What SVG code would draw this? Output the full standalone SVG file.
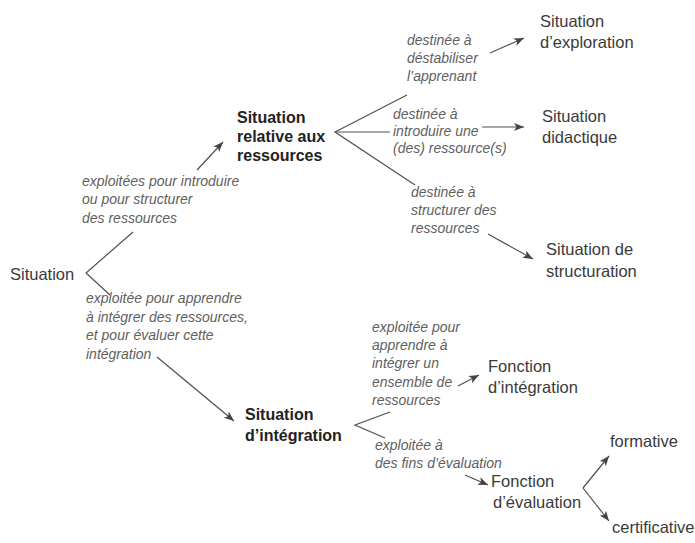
<svg xmlns="http://www.w3.org/2000/svg" width="695" height="543" viewBox="0 0 695 543">
<defs>
<marker id="ah" markerUnits="userSpaceOnUse" markerWidth="12" markerHeight="10" refX="10" refY="4" orient="auto">
<path d="M0,0 L10,4 L0,8 L2.5,4 Z" fill="#444"/>
</marker>
<style>
text{font-family:"Liberation Sans",Arial,sans-serif;}
.n{font-size:16.5px;fill:#3a3a3a;}
.b{font-size:16px;font-weight:bold;fill:#222;}
.i{font-size:14px;font-style:italic;fill:#606060;}
.l{stroke:#505050;stroke-width:1.2;fill:none;}
.a{stroke:#505050;stroke-width:1.2;fill:none;marker-end:url(#ah);}
</style>
</defs>
<rect width="695" height="543" fill="#fff"/>
<g id="connectors">
<polyline class="l" points="133,232 86,273 110,295"/>
<line class="a" x1="197" y1="170" x2="223" y2="142"/>
<line class="a" x1="157" y1="357" x2="234" y2="421"/>
<polyline class="l" points="407,95 335,132 415,185"/>
<line class="l" x1="335" y1="132" x2="390" y2="132"/>
<line class="a" x1="490" y1="53" x2="524" y2="38"/>
<line class="a" x1="482" y1="127" x2="524" y2="127"/>
<line class="a" x1="488" y1="234" x2="533" y2="259"/>
<polyline class="l" points="390,412 355,425 385,438"/>
<line class="a" x1="458" y1="386" x2="479" y2="375"/>
<line class="a" x1="465" y1="475" x2="488" y2="485"/>
<line class="a" x1="583" y1="488" x2="609" y2="456"/>
<line class="a" x1="583" y1="488" x2="609" y2="521"/>
</g>
<g id="situation"><text class="n" x="10" y="280">Situation</text></g>
<g id="label-introduire"><text class="i" x="82" y="186">exploitées pour introduire</text><text class="i" x="82" y="204">ou pour structurer</text><text class="i" x="82" y="223">des ressources</text></g>
<g id="label-apprendre"><text class="i" x="86" y="303">exploitée pour apprendre</text><text class="i" x="86" y="322">à intégrer des ressources,</text><text class="i" x="86" y="340">et pour évaluer cette</text><text class="i" x="86" y="359">intégration</text></g>
<g id="situation-ressources"><text class="b" x="237" y="123">Situation</text><text class="b" x="237" y="142">relative aux</text><text class="b" x="237" y="161">ressources</text></g>
<g id="label-destabiliser"><text class="i" x="407" y="45">destinée à</text><text class="i" x="407" y="63">déstabiliser</text><text class="i" x="407" y="81">l’apprenant</text></g>
<g id="label-introduire-res"><text class="i" x="393" y="119">destinée à</text><text class="i" x="393" y="136">introduire une</text><text class="i" x="393" y="153">(des) ressource(s)</text></g>
<g id="label-structurer"><text class="i" x="411" y="197">destinée à</text><text class="i" x="411" y="215">structurer des</text><text class="i" x="411" y="233">ressources</text></g>
<g id="situation-exploration"><text class="n" x="540" y="27">Situation</text><text class="n" x="540" y="48">d’exploration</text></g>
<g id="situation-didactique"><text class="n" x="542" y="122">Situation</text><text class="n" x="542" y="143">didactique</text></g>
<g id="situation-structuration"><text class="n" x="546" y="255">Situation de</text><text class="n" x="546" y="277">structuration</text></g>
<g id="situation-integration"><text class="b" x="245" y="420">Situation</text><text class="b" x="245" y="441">d’intégration</text></g>
<g id="label-integrer"><text class="i" x="372" y="332">exploitée pour</text><text class="i" x="372" y="350">apprendre à</text><text class="i" x="372" y="368">intégrer un</text><text class="i" x="372" y="387">ensemble de</text><text class="i" x="372" y="405">ressources</text></g>
<g id="label-evaluation"><text class="i" x="375" y="450">exploitée à</text><text class="i" x="375" y="468">des fins d’évaluation</text></g>
<g id="fonction-integration"><text class="n" x="488" y="372">Fonction</text><text class="n" x="488" y="393">d’intégration</text></g>
<g id="fonction-evaluation"><text class="n" x="491" y="487">Fonction</text><text class="n" x="493" y="508">d’évaluation</text></g>
<g id="formative"><text class="n" x="610" y="447">formative</text></g>
<g id="certificative"><text class="n" x="612" y="533">certificative</text></g>
</svg>
